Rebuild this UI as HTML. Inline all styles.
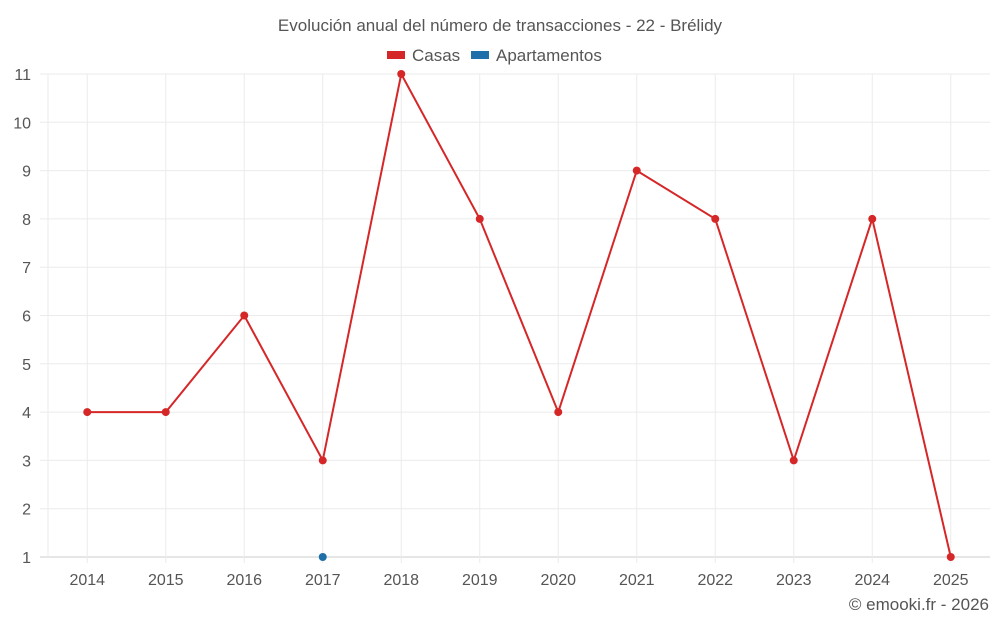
<!DOCTYPE html>
<html><head><meta charset="utf-8"><style>
body{margin:0;background:#fff;font-family:"Liberation Sans",sans-serif;}
svg text{font-family:"Liberation Sans",sans-serif;fill:#555;}
</style></head><body>
<svg id="chart" width="1000" height="625" xmlns="http://www.w3.org/2000/svg">
<text x="500" y="31" text-anchor="middle" font-size="17">Evolución anual del número de transacciones - 22 - Brélidy</text>
<g>
<g><rect x="387" y="51" width="18" height="8" fill="#d62728"/><text x="412" y="61" font-size="17">Casas</text></g>
<g><rect x="471" y="51" width="18" height="8" fill="#1f6fa8"/><text x="496" y="61" font-size="17">Apartamentos</text></g>
</g>
<g id="grid"></g><g id="axes"></g><g id="series"></g>
<text x="989" y="610" text-anchor="end" font-size="17">© emooki.fr - 2026</text>
</svg>
<script>
const categories=["2014","2015","2016","2017","2018","2019","2020","2021","2022","2023","2024","2025"];
const casas=[4,4,6,3,11,8,4,9,8,3,8,1];
const apartamentos=[null,null,null,1,null,null,null,null,null,null,null,null];
const yTicks=[1,2,3,4,5,6,7,8,9,10,11];
const L=48,R=990,T=74,B=557,yMin=1,yMax=11;
const bw=(R-L)/categories.length;
const x=i=>L+bw*(i+0.5);
const y=v=>B-(v-yMin)/(yMax-yMin)*(B-T);
const NS="http://www.w3.org/2000/svg";
function mk(tag,attrs,parent){const e=document.createElementNS(NS,tag);for(const k in attrs)e.setAttribute(k,attrs[k]);document.getElementById(parent).appendChild(e);return e;}
yTicks.forEach(t=>{
 const g=mk("line",{x1:40,x2:R,y1:y(t),y2:y(t),stroke:t===yMin?"#ccc":"#ebebeb","stroke-width":1},"grid");
 
 
 const tx=mk("text",{x:31,y:y(t)+6,"text-anchor":"end","font-size":16},"axes");tx.textContent=t;
 
 
});
const la=mk("line",{x1:L,x2:L,y1:T,y2:B,stroke:"#ebebeb"},"grid");


categories.forEach((c,i)=>{
 const g=mk("line",{x1:x(i),x2:x(i),y1:T,y2:B+6,stroke:"#ebebeb"},"grid");
 
 
 const tx=mk("text",{x:x(i),y:585,"text-anchor":"middle","font-size":16},"axes");tx.textContent=c;
 
 
});
function series(data,color,name){
 const pts=data.map((v,i)=>v==null?null:[x(i),y(v)]).filter(p=>p);
 if(pts.length>1){const p=mk("polyline",{points:pts.map(p=>p.join(",")).join(" "),fill:"none",stroke:color,"stroke-width":2},"series");
 
 }
 data.forEach((v,i)=>{if(v==null)return;
  const c=mk("circle",{cx:x(i),cy:y(v),r:4,fill:color},"series");
  
  
 });
}
series(casas,"#d62728","casas");
series(apartamentos,"#1f6fa8","apartamentos");
</script>
</body></html>
